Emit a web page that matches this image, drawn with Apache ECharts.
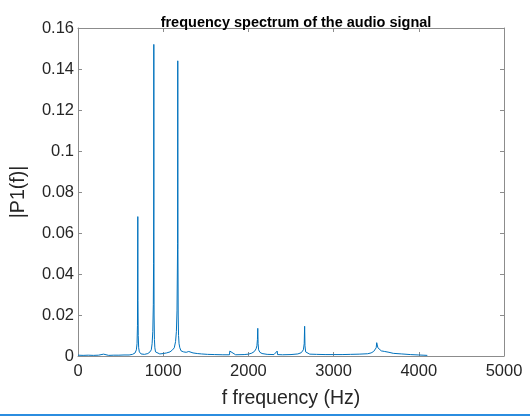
<!DOCTYPE html>
<html>
<head>
<meta charset="utf-8">
<script src="https://cdn.jsdelivr.net/npm/echarts@6/dist/echarts.min.js"></script>
<style>
  html, body { margin: 0; padding: 0; background: #fff; }
  #chart { width: 530px; height: 419px; }
</style>
</head>
<body>
<div id="chart"></div>
<script>
// spectrum: frequency (Hz) and |P1(f)|
var freqs = [0, 60, 120, 180, 240, 300, 305, 360, 420, 480, 540, 600, 640, 670, 685, 693, 698, 700, 702, 704, 707, 712, 720, 740,
  780, 820, 845, 860, 870, 878, 884, 887, 889, 890, 891, 893, 897, 902, 910, 930, 960, 1000, 1040, 1080, 1110, 1130, 1145,
  1155, 1162, 1166, 1169, 1171, 1173, 1176, 1180, 1186, 1195, 1210, 1240, 1270, 1300, 1350, 1400, 1405, 1450, 1520, 1600,
  1700, 1778, 1782, 1850, 1950, 2000, 2040, 2070, 2090, 2100, 2106, 2110, 2114, 2120, 2135, 2160, 2220, 2300, 2338, 2342,
  2400, 2500, 2580, 2620, 2645, 2655, 2660, 2664, 2672, 2690, 2720, 2800, 2900, 3000, 3100, 3200, 3300, 3400, 3440, 3470,
  3490, 3500, 3506, 3520, 3560, 3600, 3650, 3700, 3800, 3900, 4000, 4050, 4100];
var amps = [0.0004, 0.0003, 0.0004, 0.0003, 0.0004, 0.0009, 0.0004, 0.0003, 0.0004, 0.0004, 0.0005, 0.0005, 0.0008, 0.0015,
  0.003, 0.006, 0.015, 0.04, 0.068, 0.027, 0.01, 0.004, 0.002, 0.001,
  0.0008, 0.0012, 0.002, 0.003, 0.006, 0.012, 0.025, 0.045, 0.08, 0.152, 0.06, 0.02, 0.008, 0.004, 0.002, 0.0012, 0.001,
  0.0012, 0.0015, 0.002, 0.003, 0.004, 0.007, 0.012, 0.022, 0.04, 0.055, 0.144, 0.052, 0.02, 0.01, 0.006, 0.004, 0.0025,
  0.002, 0.0018, 0.0022, 0.0015, 0.0012, 0.0018, 0.001, 0.0008, 0.0007, 0.0006, 0.0006, 0.0024, 0.0006, 0.0007, 0.0009,
  0.0014, 0.0022, 0.0035, 0.005, 0.008, 0.0135, 0.006, 0.003, 0.0018, 0.0012, 0.0008, 0.0007, 0.0024, 0.0007, 0.0006,
  0.0007, 0.001, 0.0016, 0.003, 0.006, 0.0145, 0.005, 0.002, 0.0012, 0.0009, 0.0008, 0.0007, 0.0007, 0.0007, 0.0008, 0.0009,
  0.0011, 0.0015, 0.0022, 0.003, 0.004, 0.0065, 0.004, 0.0025, 0.0022, 0.0018, 0.0013, 0.001, 0.0007, 0.0005, 0.0004,
  0.0003, 0.0001];
var xTicks = [0, 1000, 2000, 3000, 4000, 5000];
var yTicks = [0, 0.02, 0.04, 0.06, 0.08, 0.1, 0.12, 0.14, 0.16];

var FONT = 'Liberation Sans';
var AXIS_COLOR = '#8c8c8c';
var TEXT_COLOR = '#262626';

var chart = echarts.init(document.getElementById('chart'));

var pairs = freqs.map(function(f, i){
  return [f, amps[i]];
});

function plainAxis(extra){
  var base = {
    type: 'value',
    axisLine: {show: true, onZero: false, lineStyle: {color: AXIS_COLOR, width: 1}},
    axisTick: {show: true, inside: true, length: 4, lineStyle: {color: AXIS_COLOR}},
    splitLine: {show: false},
    axisLabel: {show: false}
  };
  return Object.assign(base, extra);
}

var option = {
  backgroundColor: '#fff',
  animation: false,
  title: {
    text: 'frequency spectrum of the audio signal',
    left: 291,
    top: 10,
    textAlign: 'center',
    textStyle: {fontFamily: FONT, fontSize: 14.5, fontWeight: 'bold', color: '#000'}
  },
  grid: {left: 78, right: 26, top: 28, bottom: 63},
  xAxis: [
    plainAxis({
      position: 'bottom', min: xTicks[0], max: xTicks[xTicks.length - 1], interval: 1000,
      name: 'f frequency (Hz)', nameLocation: 'middle', nameGap: 33,
      nameTextStyle: {fontFamily: FONT, fontSize: 19.5, color: TEXT_COLOR},
      axisLabel: {
        show: true, fontFamily: FONT, fontSize: 16.5, color: TEXT_COLOR, margin: 7,
        formatter: function(v){
          return String(v);
        }
      }
    }),
    plainAxis({position: 'top', min: xTicks[0], max: xTicks[xTicks.length - 1], interval: 1000})
  ],
  yAxis: [
    plainAxis({
      position: 'left', min: yTicks[0], max: yTicks[yTicks.length - 1], interval: 0.02,
      name: '|P1(f)|', nameLocation: 'middle', nameGap: 49,
      nameTextStyle: {fontFamily: FONT, fontSize: 19.5, color: TEXT_COLOR},
      axisLabel: {
        show: true, fontFamily: FONT, fontSize: 16.5, color: TEXT_COLOR, margin: 4,
        formatter: function(v){
          return v === 0 ? '0' : String(+v.toFixed(2));
        }
      }
    }),
    plainAxis({position: 'right', min: yTicks[0], max: yTicks[yTicks.length - 1], interval: 0.02})
  ],
  series: [{
    type: 'line',
    data: pairs,
    showSymbol: false,
    lineStyle: {color: '#0072bd', width: 1},
    itemStyle: {color: '#0072bd'}
  }],
  graphic: [{
    type: 'rect',
    shape: {x: 0, y: 414, width: 530, height: 2},
    style: {fill: '#2b8de0'}
  }]
};

chart.setOption(option);
</script>
</body>
</html>
